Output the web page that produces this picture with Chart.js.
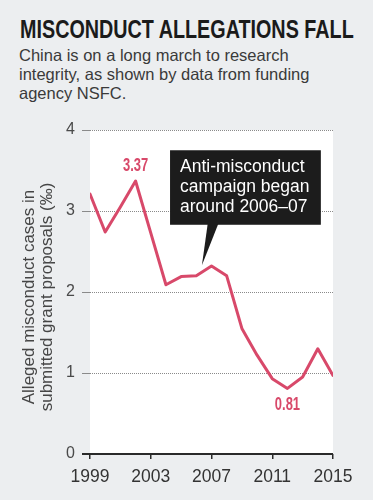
<!DOCTYPE html>
<html>
<head>
<meta charset="utf-8">
<script src="https://cdn.jsdelivr.net/npm/chart.js@4.4.1/dist/chart.umd.min.js"></script>
<style>
  html, body { margin: 0; padding: 0; background: #eceef0; }
  #page { position: relative; width: 373px; height: 500px; overflow: hidden; }
  #titre { position: absolute; left: 20px; top: 14px; font: bold 26px "Liberation Sans", Arial, sans-serif;
           color: #1b1b1b; white-space: nowrap; transform: scaleX(0.76); transform-origin: left top; }
  #sous { position: absolute; left: 19px; top: 46px; font: 16.5px "Liberation Sans", Arial, sans-serif;
          color: #3a3a3a; line-height: 19px; }
  canvas { position: absolute; left: 0; top: 0; }
</style>
</head>
<body>
<div id="page">
  <div id="titre">MISCONDUCT ALLEGATIONS FALL</div>
  <div id="sous">China is on a long march to research<br>integrity, as shown by data from funding<br>agency NSFC.</div>
  <canvas id="graphique" width="373" height="500"></canvas>
</div>
<script>
// Données (cas pour mille propositions)
const annees = [1999, 2000, 2001, 2002, 2003, 2004, 2005, 2006, 2007, 2008, 2009, 2010, 2011, 2012, 2013, 2014, 2015];
const cas = [3.21, 2.74, 3.05, 3.37, 2.73, 2.09, 2.19, 2.2, 2.32, 2.2, 1.55, 1.22, 0.93, 0.81, 0.95, 1.3, 0.97];
const anneesTicks = [1999, 2003, 2007, 2011, 2015];
const casTicks = [0, 1, 2, 3, 4];
const titreAxe = ["Alleged misconduct cases in", "submitted grant proposals (‰)"];
const bulle = ["Anti-misconduct", "campaign began", "around 2006–07"];

const rose = '#d8496a';
const police = '"Liberation Sans", Arial, sans-serif';

// Fond blanc + annotations
const decor = {
    id: 'decor',
    beforeDraw(chart) {
        const a = chart.chartArea;
        const ctx = chart.ctx;
        ctx.save();
        ctx.fillStyle = '#ffffff';
        ctx.fillRect(a.left, a.top, a.right - a.left, a.bottom - a.top);
        ctx.restore();
    },
    afterDraw(chart) {
        const ctx = chart.ctx;
        const x = chart.scales.x, y = chart.scales.y;
        const a = chart.chartArea;
        ctx.save();

        // ligne du zéro
        ctx.strokeStyle = '#2a2a2a';
        ctx.lineWidth = 2;
        ctx.beginPath();
        ctx.moveTo(a.left - 8, y.getPixelForValue(0));
        ctx.lineTo(a.right, y.getPixelForValue(0));
        ctx.stroke();

        // titre de l'axe y
        ctx.fillStyle = '#454545';
        ctx.font = '17px ' + police;
        ctx.textAlign = 'center';
        ctx.textBaseline = 'middle';
        const cy = (a.top + a.bottom) / 2 + 5;
        ctx.translate(29, cy);
        ctx.rotate(-Math.PI / 2);
        ctx.fillText(titreAxe[0], 0, 0);
        ctx.fillText(titreAxe[1], 0, 18);
        ctx.setTransform(1, 0, 0, 1, 0, 0);

        // valeurs max / min
        const etiquette = (i, dy) => {
            ctx.save();
            ctx.translate(x.getPixelForValue(annees[i]), y.getPixelForValue(cas[i]) + dy);
            ctx.scale(0.72, 1);
            ctx.fillStyle = rose;
            ctx.font = 'bold 18px ' + police;
            ctx.textAlign = 'center';
            ctx.textBaseline = 'middle';
            ctx.fillText(cas[i].toFixed(2), 0, 0);
            ctx.restore();
        };
        etiquette(cas.indexOf(Math.max(...cas)), -15);
        etiquette(cas.indexOf(Math.min(...cas)), 17);

        // bulle noire
        const bx0 = x.getPixelForValue(2004.27), bx1 = x.getPixelForValue(2014.2);
        const by0 = y.getPixelForValue(3.75), by1 = y.getPixelForValue(2.83);
        ctx.fillStyle = '#1c1c1c';
        ctx.fillRect(bx0, by0, bx1 - bx0, by1 - by0);
        ctx.beginPath();
        ctx.moveTo(x.getPixelForValue(2006.75), by1 - 1);
        ctx.lineTo(x.getPixelForValue(2007.45), by1 - 1);
        ctx.lineTo(x.getPixelForValue(2006.37), y.getPixelForValue(2.33));
        ctx.closePath();
        ctx.fill();
        ctx.fillStyle = '#ffffff';
        ctx.font = '17.5px ' + police;
        ctx.textAlign = 'left';
        ctx.textBaseline = 'middle';
        bulle.forEach((t, i) => ctx.fillText(t, bx0 + 10, by0 + 17 + i * 20));

        ctx.restore();
    }
};

new Chart(document.getElementById('graphique').getContext('2d'), {
    type: 'line',
    data: {
        datasets: [{
            data: annees.map((a, i) => ({ x: a, y: cas[i] })),
            borderColor: rose,
            borderWidth: 3,
            pointRadius: 0,
            tension: 0,
            borderJoinStyle: 'round',
            borderCapStyle: 'round'
        }]
    },
    options: {
        responsive: false,
        animation: false,
        layout: { padding: { left: 0, top: 130, right: 40, bottom: 0 } },
        plugins: { legend: { display: false }, tooltip: { enabled: false } },
        scales: {
            x: {
                type: 'linear',
                min: 1999, max: 2015,
                afterFit: s => { s.height = 46; },
                afterBuildTicks: s => { s.ticks = anneesTicks.map(v => ({ value: v })); },
                grid: { drawOnChartArea: false, drawTicks: true, tickLength: 5, color: '#2a2a2a', lineWidth: 1.5 },
                border: { display: false },
                ticks: { color: '#333', font: { family: police, size: 17.5 }, padding: 8, maxRotation: 0,
                         callback: v => String(v) }
            },
            y: {
                min: 0, max: 4,
                afterFit: s => { s.width = 90; },
                afterBuildTicks: s => { s.ticks = casTicks.map(v => ({ value: v })); },
                grid: { color: '#8a8a8a', lineWidth: 1, tickLength: 8 },
                border: { display: false, dash: [1, 1] },
                ticks: { color: '#4a4a4a', font: { family: police, size: 16 }, padding: 7 }
            }
        }
    },
    plugins: [decor]
});
</script>
</body>
</html>
